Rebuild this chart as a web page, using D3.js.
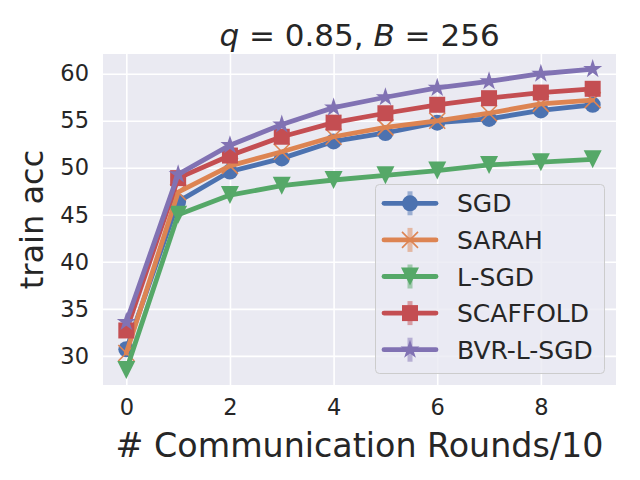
<!DOCTYPE html>
<html><head><meta charset="utf-8">
<script src="https://cdn.jsdelivr.net/npm/d3@7"></script>
<style>
body{margin:0;background:#fff}
text{font-family:"DejaVu Sans",sans-serif;fill:#262626}
</style>
</head><body>
<svg id="c" width="640" height="480"></svg>
<script>
// ---- data ----
const rounds = [0,1,2,3,4,5,6,7,8,9];
const seriesNames = ["SGD","SARAH","L-SGD","SCAFFOLD","BVR-L-SGD"];
const sgdAcc      = [30.7, 46.4, 49.6, 51.0, 52.8, 53.7, 54.8, 55.2, 56.1, 56.7];
const sarahAcc    = [30.3, 47.4, 50.2, 51.7, 53.3, 54.3, 55.0, 55.8, 56.8, 57.2];
const lsgdAcc     = [28.5, 45.0, 47.1, 48.1, 48.7, 49.2, 49.7, 50.3, 50.6, 50.9];
const scaffoldAcc = [32.7, 48.9, 51.3, 53.3, 54.8, 55.8, 56.7, 57.4, 58.0, 58.4];
const bvrAcc      = [33.6, 49.3, 52.4, 54.6, 56.4, 57.5, 58.5, 59.2, 60.0, 60.5];
const xTicks = [0,2,4,6,8];
const yTicks = [30,35,40,45,50,55,60];

const seriesValues = [sgdAcc, sarahAcc, lsgdAcc, scaffoldAcc, bvrAcc];
const colors = ["#4C72B0","#DD8452","#55A868","#C44E52","#8172B3"];
const markerKinds = ["circle","x","tri","square","star"];

const svg = d3.select("#c");
const L=103, R=616, T=54, B=385;

const allV = seriesValues.flat();
const vmin = d3.min(allV), vmax = d3.max(allV), pad = 0.05*(vmax-vmin);
const x = d3.scaleLinear().domain([-0.45, 9.45]).range([L, R]);
const y = d3.scaleLinear().domain([vmin-pad, vmax+pad]).range([B, T]);

svg.append("rect").attr("x",L).attr("y",T).attr("width",R-L).attr("height",B-T).attr("fill","#EAEAF2");

// grid + axes
const gx = svg.append("g").attr("transform",`translate(0,${B})`)
  .call(d3.axisBottom(x).tickValues(xTicks).tickSize(-(B-T)).tickPadding(14).tickFormat(d3.format("d")));
const gy = svg.append("g").attr("transform",`translate(${L},0)`)
  .call(d3.axisLeft(y).tickValues(yTicks).tickSize(-(R-L)).tickPadding(14).tickFormat(d3.format("d")));
[gx,gy].forEach(g=>{
  g.select(".domain").remove();
  g.selectAll(".tick line").attr("stroke","#fff").attr("stroke-width",1.6);
  g.selectAll(".tick text").attr("font-size",22.5).attr("fill","#262626").style("font-family","DejaVu Sans");
});

// marker paths
function markerPath(kind){
  if(kind==="circle") return d3.symbol(d3.symbolCircle, Math.PI*8*8)();
  if(kind==="square") return d3.symbol(d3.symbolSquare, 16*16)();
  if(kind==="tri"){ const s=9; return `M${-s},${-s}L${s},${-s}L0,${s}Z`; }
  if(kind==="star"){
    const ro=10, ri=ro*0.381966; let p="";
    for(let i=0;i<10;i++){ const r=i%2?ri:ro; const a=-Math.PI/2+i*Math.PI/5;
      p+=(i?"L":"M")+(r*Math.cos(a)).toFixed(2)+","+(r*Math.sin(a)).toFixed(2); }
    return p+"Z";
  }
  if(kind==="x"){ const s=8; return `M${-s},${-s}L${s},${s}M${-s},${s}L${s},${-s}`; }
}
function drawMarker(g, kind, color){
  const p = g.append("path").attr("d", markerPath(kind));
  if(kind==="x") p.attr("fill","none").attr("stroke",color).attr("stroke-width",1.6);
  else p.attr("fill",color);
  return p;
}

const line = d3.line().x((d,i)=>x(rounds[i])).y(d=>y(d));
const plot = svg.append("g");
seriesValues.forEach((vals,k)=>{
  const g = plot.append("g");
  g.append("path").attr("d", line(vals)).attr("fill","none")
    .attr("stroke",colors[k]).attr("stroke-width",4.8).attr("stroke-linejoin","round").attr("stroke-linecap","round");
  vals.forEach((v,i)=>{
    const mg = g.append("g").attr("transform",`translate(${x(rounds[i])},${y(v)})`);
    drawMarker(mg, markerKinds[k], colors[k]);
  });
});

// legend
const lg = svg.append("g");
lg.append("rect").attr("x",375.5).attr("y",184.5).attr("width",229).attr("height",189).attr("rx",4)
  .attr("fill","#EAEAF2").attr("fill-opacity",0.8).attr("stroke","#CCCCCC").attr("stroke-width",1);
seriesNames.forEach((name,k)=>{
  const cy = 203.3 + k*36.6;
  const e = lg.append("g").attr("transform",`translate(0,${cy})`);
  e.append("line").attr("x1",410).attr("x2",410).attr("y1",-12).attr("y2",12)
    .attr("stroke",colors[k]).attr("stroke-opacity",0.5).attr("stroke-width",5);
  e.append("line").attr("x1",384).attr("x2",436).attr("y1",0).attr("y2",0)
    .attr("stroke",colors[k]).attr("stroke-width",4.8).attr("stroke-linecap","round");
  const mg = e.append("g").attr("transform","translate(410,0)");
  drawMarker(mg, markerKinds[k], colors[k]);
  e.append("text").attr("x",457).attr("y",9).attr("font-size",25).text(name);
});

// labels
svg.append("text").attr("x",(L+R)/2).attr("y",457).attr("text-anchor","middle").attr("font-size",33.3)
  .text("# Communication Rounds/10");
svg.append("text").attr("transform",`translate(43,${(T+B)/2}) rotate(-90)`).attr("text-anchor","middle")
  .attr("font-size",32).text("train acc");
const title = svg.append("text").attr("x",(L+R)/2).attr("y",46).attr("text-anchor","middle").attr("font-size",31);
title.append("tspan").attr("font-style","italic").text("q");
title.append("tspan").text(" = 0.85, ");
title.append("tspan").attr("font-style","italic").text("B");
title.append("tspan").text(" = 256");
</script>
</body></html>
